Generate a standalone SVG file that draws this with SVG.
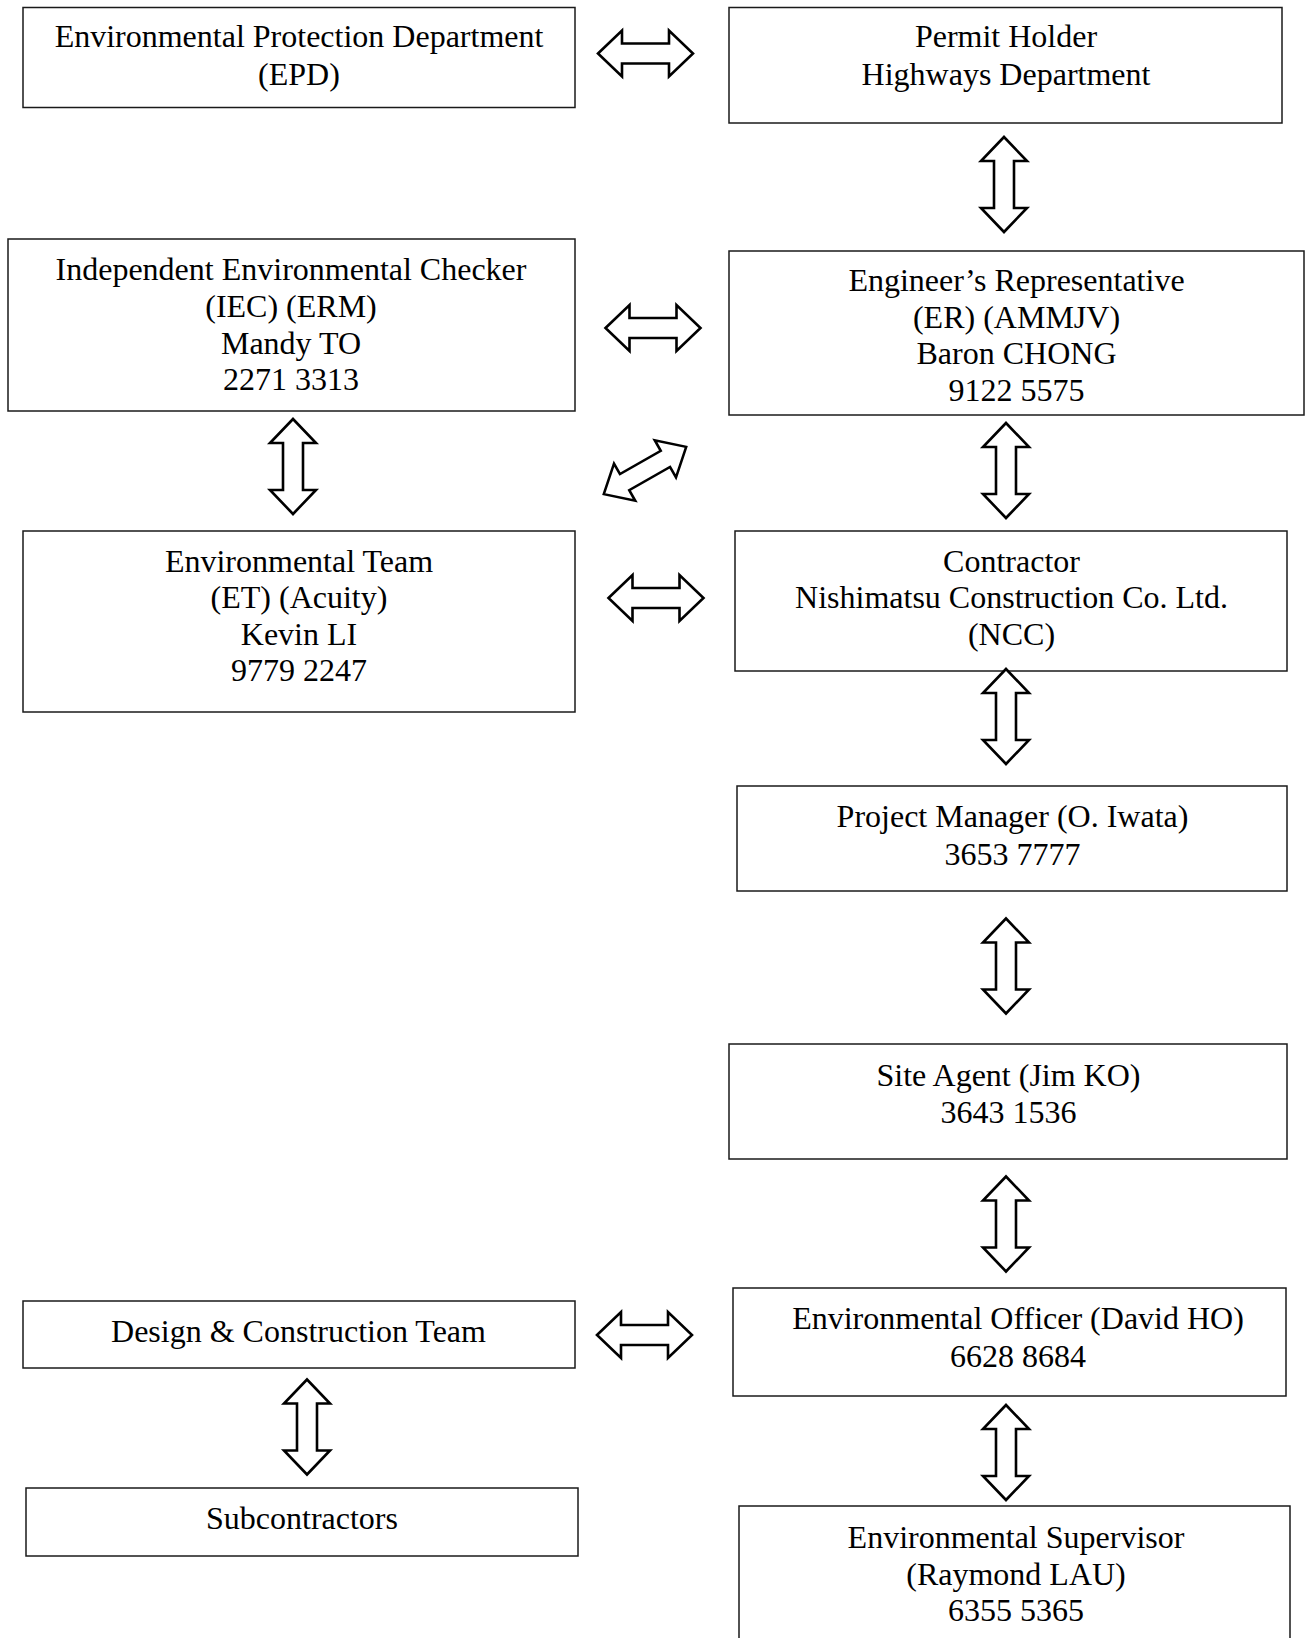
<svg xmlns="http://www.w3.org/2000/svg" xmlns:xlink="http://www.w3.org/1999/xlink" width="1306" height="1638" viewBox="0 0 1306 1638">
<style>
  .box { fill: #ffffff; stroke: #1a1a1a; stroke-width: 1.5; }
  .lbl { font-family: "Liberation Serif", "Times New Roman", serif; font-size: 32px; fill: #000000; text-anchor: middle; }
  .arr { fill: #ffffff; stroke: #000000; stroke-width: 2.6; stroke-linejoin: miter; }
</style>
<defs>
  <path id="dbl" d="M -47.5 0 L -23.5 -23 L -23.5 -10 L 23.5 -10 L 23.5 -23 L 47.5 0 L 23.5 23 L 23.5 10 L -23.5 10 L -23.5 23 Z"/>
</defs>
<rect width="1306" height="1638" fill="#ffffff"/>

<g id="epd">
  <rect class="box" x="23" y="7.5" width="552" height="100"/>
  <text class="lbl" x="299" y="47">Environmental Protection Department</text>
  <text class="lbl" x="299" y="84.5">(EPD)</text>
</g>
<g id="permit-holder">
  <rect class="box" x="729" y="7.5" width="553" height="115.5"/>
  <text class="lbl" x="1006" y="47">Permit Holder</text>
  <text class="lbl" x="1006" y="84.5">Highways Department</text>
</g>
<g id="iec">
  <rect class="box" x="8" y="239" width="567" height="172"/>
  <text class="lbl" x="291" y="279.5">Independent Environmental Checker</text>
  <text class="lbl" x="291" y="317">(IEC) (ERM)</text>
  <text class="lbl" x="291" y="353.5">Mandy TO</text>
  <text class="lbl" x="291" y="389.5">2271 3313</text>
</g>
<g id="er">
  <rect class="box" x="729" y="251" width="575" height="164"/>
  <text class="lbl" x="1016.5" y="291">Engineer’s Representative</text>
  <text class="lbl" x="1016.5" y="327.5">(ER) (AMMJV)</text>
  <text class="lbl" x="1016.5" y="364">Baron CHONG</text>
  <text class="lbl" x="1016.5" y="400.5">9122 5575</text>
</g>
<g id="et">
  <rect class="box" x="23" y="531" width="552" height="181"/>
  <text class="lbl" x="299" y="571.5">Environmental Team</text>
  <text class="lbl" x="299" y="608">(ET) (Acuity)</text>
  <text class="lbl" x="299" y="644.5">Kevin LI</text>
  <text class="lbl" x="299" y="680.5">9779 2247</text>
</g>
<g id="contractor">
  <rect class="box" x="735" y="531" width="552" height="140"/>
  <text class="lbl" x="1011.5" y="571.5">Contractor</text>
  <text class="lbl" x="1011.5" y="608">Nishimatsu Construction Co. Ltd.</text>
  <text class="lbl" x="1011.5" y="644.5">(NCC)</text>
</g>
<g id="project-manager">
  <rect class="box" x="737" y="786" width="550" height="105"/>
  <text class="lbl" x="1012.5" y="827">Project Manager (O. Iwata)</text>
  <text class="lbl" x="1012.5" y="864.5">3653 7777</text>
</g>
<g id="site-agent">
  <rect class="box" x="729" y="1044" width="558" height="115"/>
  <text class="lbl" x="1008.5" y="1086">Site Agent (Jim KO)</text>
  <text class="lbl" x="1008.5" y="1123">3643 1536</text>
</g>
<g id="environmental-officer">
  <rect class="box" x="733" y="1288" width="553" height="108"/>
  <text class="lbl" x="1018" y="1329">Environmental Officer (David HO)</text>
  <text class="lbl" x="1018" y="1367">6628 8684</text>
</g>
<g id="environmental-supervisor">
  <rect class="box" x="739" y="1506" width="551" height="140"/>
  <text class="lbl" x="1016" y="1548">Environmental Supervisor</text>
  <text class="lbl" x="1016" y="1584.5">(Raymond LAU)</text>
  <text class="lbl" x="1016" y="1621">6355 5365</text>
</g>
<g id="design-construction-team">
  <rect class="box" x="23" y="1301" width="552" height="67"/>
  <text class="lbl" x="298.5" y="1341.5">Design &amp; Construction Team</text>
</g>
<g id="subcontractors">
  <rect class="box" x="26" y="1488" width="552" height="68"/>
  <text class="lbl" x="302" y="1529">Subcontractors</text>
</g>

<g id="connectors">
  <use xlink:href="#dbl" class="arr" transform="translate(645.5,53.5)"/>
  <use xlink:href="#dbl" class="arr" transform="translate(653,328)"/>
  <use xlink:href="#dbl" class="arr" transform="translate(656,598)"/>
  <use xlink:href="#dbl" class="arr" transform="translate(644.5,1335)"/>
  <use xlink:href="#dbl" class="arr" transform="translate(645,470.5) rotate(-29.8) scale(1,0.93)"/>
  <use xlink:href="#dbl" class="arr" transform="translate(1004,184.5) rotate(90)"/>
  <use xlink:href="#dbl" class="arr" transform="translate(1006,470.5) rotate(90)"/>
  <use xlink:href="#dbl" class="arr" transform="translate(1006,716.5) rotate(90)"/>
  <use xlink:href="#dbl" class="arr" transform="translate(1006,966) rotate(90)"/>
  <use xlink:href="#dbl" class="arr" transform="translate(1006,1224) rotate(90)"/>
  <use xlink:href="#dbl" class="arr" transform="translate(1006,1452.5) rotate(90)"/>
  <use xlink:href="#dbl" class="arr" transform="translate(293,466.5) rotate(90)"/>
  <use xlink:href="#dbl" class="arr" transform="translate(307,1427) rotate(90)"/>
</g>
</svg>
